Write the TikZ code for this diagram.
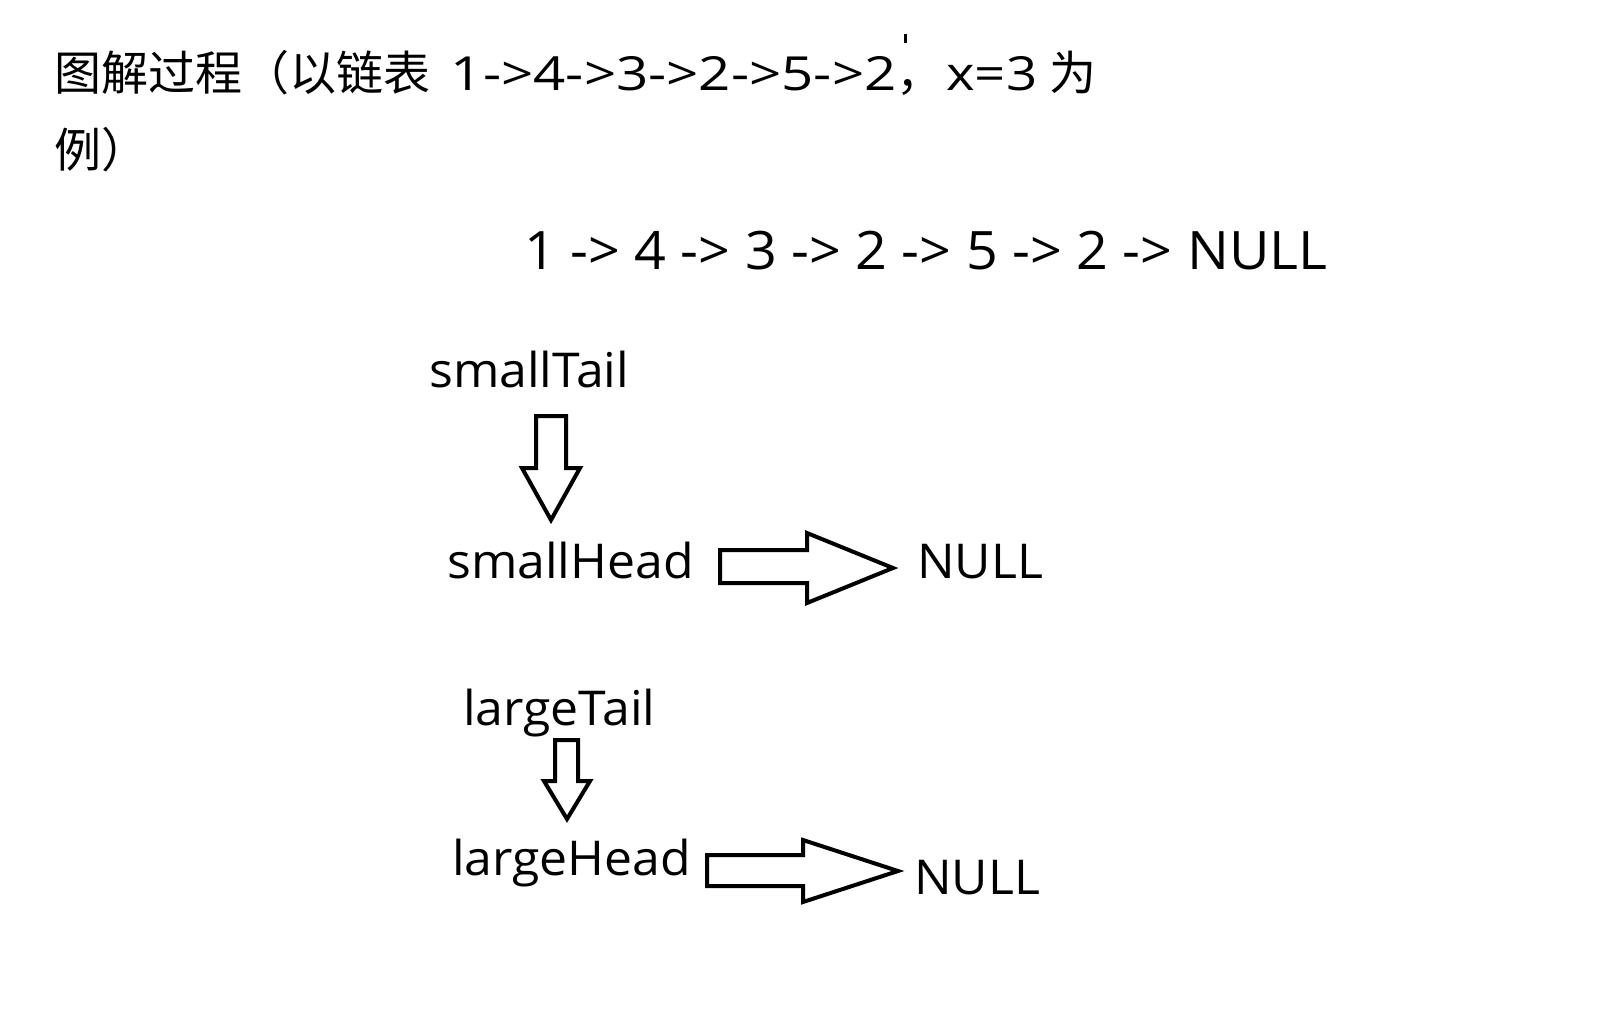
\documentclass[tikz,border=0pt]{standalone}
\usepackage{fontspec}
\setmainfont{Open Sans}[FakeStretch=1.04]
\newfontfamily\cjk{Noto Sans CJK SC}
\newfontfamily\titlelat{Open Sans}[FakeStretch=1.2]
\newfontfamily\titlex{Open Sans}[FakeStretch=1.16]
\newfontfamily\chainfont{Open Sans}[FakeStretch=1.05]
\begin{document}
\begin{tikzpicture}[x=1pt,y=-1pt,
  lbl/.style={anchor=base west, inner sep=0pt, font=\fontsize{48}{58}\selectfont},
  blockarrow/.style={draw=black, line width=4pt, line join=miter, fill=white}]
\useasboundingbox[fill=white] (0,0) rectangle (1605,1026);
% title
\node[lbl, font=\fontsize{47}{56}\selectfont] (title1) at (54,90)
  {{\cjk 图解过程（以链表} \hspace{8pt}{\titlelat 1->4->3->2->5->2}{\cjk ，}\hspace{3pt}{\titlex x=3} {\cjk 为}};
\node[lbl, font=\fontsize{47}{56}\selectfont] (title2) at (54,167) {{\cjk 例）}};
\draw[line width=3pt] (905,34) -- (905,43);
% chain
\node[lbl, font=\fontsize{53}{64}\chainfont] (chain) at (524,269) {1 -> 4 -> 3 -> 2 -> 5 -> 2 -> NULL};
% labels
\node[lbl] (smallTail) at (429,387) {smallTail};
\node[lbl] (smallHead) at (447,578) {smallHead};
\node[lbl] (null1) at (917,578) {NULL};
\node[lbl] (largeTail) at (463,725) {largeTail};
\node[lbl] (largeHead) at (452,875) {largeHead};
\node[lbl] (null2) at (914,894) {NULL};
% block arrows
\draw[blockarrow] (536,416) -- (566,416) -- (566,468) -- (580,468) -- (551,520) -- (522,468) -- (536,468) -- cycle;
\draw[blockarrow] (720,550) -- (807,550) -- (807,533) -- (893,568) -- (807,603) -- (807,583) -- (720,583) -- cycle;
\draw[blockarrow] (555,740) -- (578,740) -- (578,781) -- (590,781) -- (567,819) -- (544,781) -- (555,781) -- cycle;
\draw[blockarrow] (707,855) -- (803,855) -- (803,840) -- (898,871) -- (803,902) -- (803,886) -- (707,886) -- cycle;
\end{tikzpicture}
\end{document}
